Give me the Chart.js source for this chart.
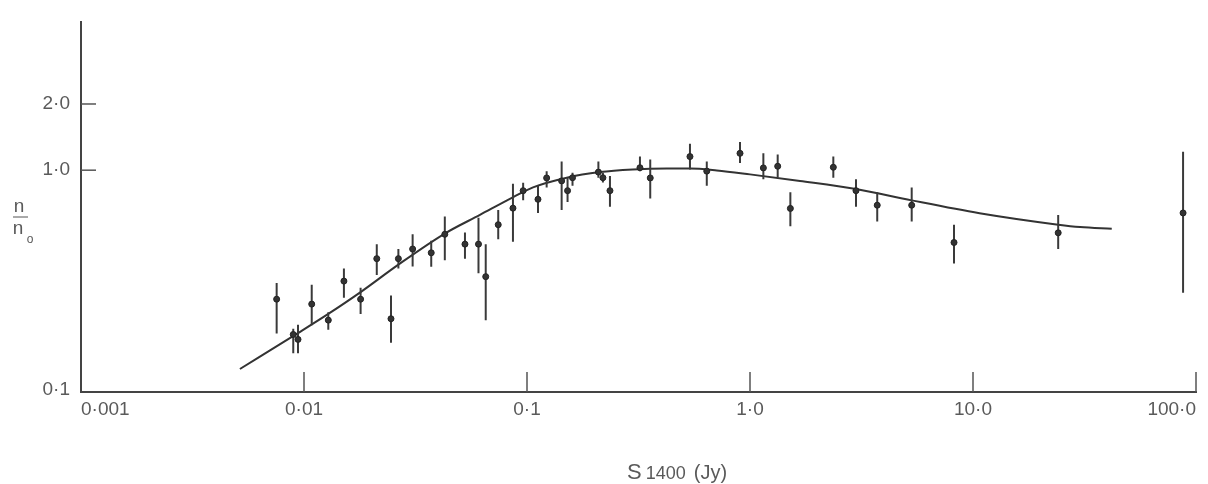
<!DOCTYPE html>
<html>
<head>
<meta charset="utf-8">
<script src="https://cdn.jsdelivr.net/npm/chart.js@4/dist/chart.umd.min.js"></script>
<style>
  html, body { margin: 0; background: #fff; }
  #wrap { width: 1208px; height: 484px; }
</style>
</head>
<body>
<div id="wrap"><canvas id="chart" width="1208" height="484"></canvas></div>
<script>
// flux density S1400 (Jy) of each bin, measured n/n0 and its error bar ends
const fluxJy = [0.00754, 0.00895, 0.0094, 0.01083, 0.01285, 0.0151, 0.01794, 0.0212, 0.02455, 0.0265,
    0.0307, 0.0372, 0.0428, 0.0527, 0.0606, 0.0653, 0.0743, 0.0865, 0.0961, 0.112,
    0.1225, 0.143, 0.152, 0.160, 0.209, 0.219, 0.2355, 0.321, 0.357, 0.538,
    0.640, 0.902, 1.148, 1.331, 1.517, 2.364, 2.987, 3.72, 5.31, 8.22,
    24.1, 87.5];
const ratio = [0.259, 0.179, 0.170, 0.246, 0.208, 0.313, 0.259, 0.396, 0.211, 0.396,
    0.438, 0.421, 0.511, 0.461, 0.461, 0.328, 0.565, 0.672, 0.807, 0.737,
    0.922, 0.894, 0.807, 0.924, 0.98, 0.924, 0.807, 1.026, 0.922, 1.153,
    0.99, 1.193, 1.024, 1.042, 0.670, 1.031, 0.807, 0.693, 0.693, 0.469,
    0.519, 0.639];
const ratioLow = [0.181, 0.147, 0.147, 0.197, 0.188, 0.263, 0.222, 0.334, 0.164, 0.357,
    0.365, 0.364, 0.389, 0.396, 0.340, 0.208, 0.485, 0.473, 0.729, 0.639,
    0.835, 0.659, 0.717, 0.850, 0.924, 0.879, 0.681, 0.99, 0.744, 1.007,
    0.850, 1.077, 0.909, 0.924, 0.556, 0.924, 0.681, 0.585, 0.585, 0.376,
    0.438, 0.277];
const ratioHigh = [0.307, 0.190, 0.198, 0.301, 0.226, 0.357, 0.292, 0.461, 0.269, 0.438,
    0.511, 0.477, 0.615, 0.521, 0.607, 0.461, 0.659, 0.867, 0.876, 0.849,
    0.99, 1.096, 0.924, 0.973, 1.096, 0.973, 0.941, 1.153, 1.119, 1.32,
    1.096, 1.344, 1.193, 1.177, 0.794, 1.153, 0.909, 0.794, 0.835, 0.565,
    0.626, 1.214];

// model curve
const modelFlux = [0.00516, 0.00935, 0.01285, 0.01794, 0.0265, 0.0428, 0.0615, 0.0868, 0.1064, 0.1507,
    0.212, 0.298, 0.423, 0.538, 0.710, 1.0, 1.676, 2.987, 5.31, 10.7, 24.1, 30.2, 41.9];
const modelRatio = [0.1247, 0.181, 0.222, 0.279, 0.372, 0.515, 0.626, 0.754, 0.835, 0.924,
    0.98, 1.007, 1.017, 1.017, 0.997, 0.957, 0.894, 0.822, 0.729, 0.637, 0.565, 0.551, 0.541];

const xTickValues = [0.001, 0.01, 0.1, 1, 10, 100];
const xTickLabels = ['0·001', '0·01', '0·1', '1·0', '10·0', '100·0'];
const yTickValues = [0.1, 1, 2];
const yTickLabels = ['0·1', '1·0', '2·0'];

const INK = '#333';
const LABEL = '#5a5a5a';
const FONT = '"Liberation Sans", "DejaVu Sans", sans-serif';

const points = fluxJy.map((s, i) => ({x: s, y: ratio[i]}));
const errorBars = fluxJy.flatMap((s, i) => [
    {x: s, y: ratioLow[i]}, {x: s, y: ratioHigh[i]}, {x: s, y: null}
]);
const model = modelFlux.map((s, i) => ({x: s, y: modelRatio[i]}));

// inward tick marks and the hand lettered axis titles
const decor = {
    id: 'decor',
    afterDraw(chart) {
        const {ctx, chartArea: a, scales: {x, y}} = chart;
        const line = (x1, y1, x2, y2) => { ctx.beginPath(); ctx.moveTo(x1, y1); ctx.lineTo(x2, y2); ctx.stroke(); };
        ctx.save();
        ctx.strokeStyle = '#555';
        ctx.lineWidth = 1.5;
        xTickValues.slice(1).forEach(v => {
            const px = x.getPixelForValue(v);
            line(px, a.bottom, px, a.bottom - 20);
        });
        yTickValues.slice(1).forEach(v => {
            const py = y.getPixelForValue(v);
            line(a.left, py, a.left + 15, py);
        });

        // n / n0
        ctx.fillStyle = LABEL;
        ctx.textAlign = 'center';
        ctx.textBaseline = 'alphabetic';
        ctx.font = '19px ' + FONT;
        ctx.fillText('n', 19, 212);
        ctx.lineWidth = 1;
        line(13, 217, 28, 217);
        ctx.fillText('n', 18, 234);
        ctx.font = '12px ' + FONT;
        ctx.fillText('o', 30, 243);

        // S1400 (Jy)
        ctx.textAlign = 'left';
        let tx = 627;
        ctx.font = '22px ' + FONT;
        ctx.fillText('S', tx, 479);
        tx += ctx.measureText('S').width + 4;
        ctx.font = '18px ' + FONT;
        ctx.fillText('1400', tx, 479);
        tx += ctx.measureText('1400').width + 8;
        ctx.font = '20px ' + FONT;
        ctx.fillText('(Jy)', tx, 479);
        ctx.restore();
    }
};

new Chart(document.getElementById('chart'), {
    type: 'line',
    data: {
        datasets: [
            {
                label: 'n/n0', data: points, showLine: false, order: 0,
                pointRadius: 3, pointBackgroundColor: INK, pointBorderColor: '#222', pointBorderWidth: 1
            },
            {
                label: 'errors', data: errorBars, order: 1, spanGaps: false,
                borderColor: '#3a3a3a', borderWidth: 2, pointRadius: 0
            },
            {
                label: 'model', data: model, order: 2,
                borderColor: INK, borderWidth: 2, pointRadius: 0,
                cubicInterpolationMode: 'monotone'
            }
        ]
    },
    options: {
        responsive: false,
        devicePixelRatio: 1,
        animation: false,
        layout: {padding: {top: 12, right: 12, left: 0, bottom: 0}},
        plugins: {legend: {display: false}, tooltip: {enabled: false}},
        scales: {
            x: {
                type: 'logarithmic', min: 0.001, max: 100,
                grid: {display: false, drawTicks: false},
                border: {display: true, color: '#444', width: 2},
                ticks: {
                    align: 'inner', padding: 6, color: LABEL, autoSkip: false, maxRotation: 0,
                    font: {family: FONT, size: 19},
                    callback: (v, i) => xTickLabels[i]
                },
                afterBuildTicks: s => { s.ticks = xTickValues.map(v => ({value: v})); },
                afterFit: s => { s.height = 92; }
            },
            y: {
                type: 'logarithmic', min: 0.098, max: 4.7,
                grid: {display: false, drawTicks: false},
                border: {display: true, color: '#444', width: 2},
                ticks: {
                    padding: 11, color: LABEL, autoSkip: false,
                    font: {family: FONT, size: 19},
                    callback: (v, i) => yTickLabels[i]
                },
                afterBuildTicks: s => { s.ticks = yTickValues.map(v => ({value: v})); },
                afterFit: s => { s.width = 81; }
            }
        }
    },
    plugins: [decor]
});
</script>
</body>
</html>
